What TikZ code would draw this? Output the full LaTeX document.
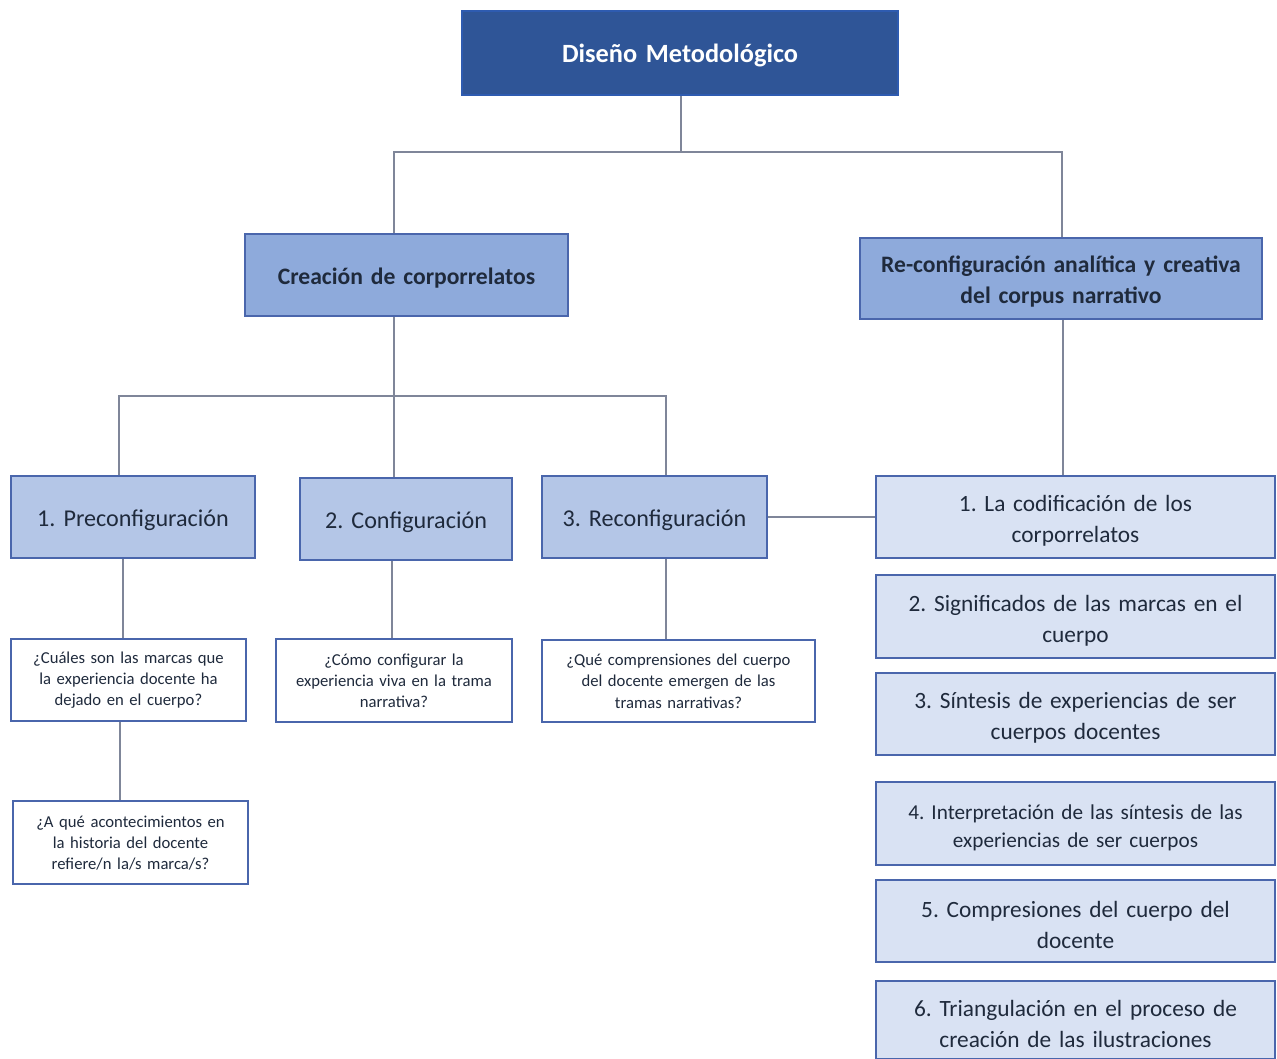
\documentclass[tikz,border=0pt]{standalone}
\usepackage{fontspec}
\setmainfont{Carlito}
\frenchspacing
\definecolor{rootfill}{HTML}{2F5597}
\definecolor{rootedge}{HTML}{2E5BB0}
\definecolor{midfill}{HTML}{8EAADB}
\definecolor{stepfill}{HTML}{B4C6E7}
\definecolor{listfill}{HTML}{D9E2F3}
\definecolor{boxedge}{HTML}{4A66AC}
\definecolor{linkcol}{HTML}{7F8699}
\definecolor{inkcol}{HTML}{1F2A3C}
\newcommand{\bx}[7]{\node[#1,minimum width=#4*0.75pt-#5*0.75pt,minimum height=#7*0.75pt-#6*0.75pt,
  text width=#4*0.75pt-#5*0.75pt-8pt] (#2) at ({(#4+#5)/2},{(#6+#7)/2}) {#3};}
\newcommand{\tightwords}{\spaceskip=.16em plus .05em minus .03em\relax}
\begin{document}
\begin{tikzpicture}[x=0.75pt,y=-0.75pt,
  nudge/.style={execute at begin node={\leavevmode\rule{0pt}{#1}}},
  base/.style={draw=boxedge,line width=1.3pt,inner sep=0pt,align=center,text=inkcol},
  rootbox/.style={base,nudge=17pt,draw=rootedge,fill=rootfill,text=white,font=\fontsize{19.75}{23}\selectfont\bfseries\tightwords},
  midbox/.style={base,nudge=16.5pt,fill=midfill,font=\fontsize{17.7}{23.2}\selectfont\bfseries\tightwords},
  stepbox/.style={base,nudge=17.5pt,fill=stepfill,font=\fontsize{18.1}{23}\selectfont\tightwords},
  listbox/.style={base,nudge=18pt,fill=listfill,font=\fontsize{17.5}{23.2}\selectfont\tightwords},
  smalllistbox/.style={base,nudge=17pt,fill=listfill,font=\fontsize{15.9}{21}\selectfont\tightwords},
  askbox/.style={base,nudge=9pt,fill=white,font=\fontsize{12.5}{15.8}\selectfont\tightwords},
  link/.style={draw=linkcol,line width=1.1pt}]
\useasboundingbox (0,0) rectangle (1277,1059);
\bx{rootbox}{root}{Diseño Metodológico}{898}{462}{11}{95}
\bx{midbox}{crea}{Creación de corporrelatos}{568}{245}{234}{316}
\bx{midbox}{reconf}{Re-configuración analítica y creativa\\del corpus narrativo}{1262}{860}{238}{319}
\bx{stepbox}{pa}{1. Preconfiguración}{255}{11}{476}{558}
\bx{stepbox}{pb}{2. Configuración}{512}{300}{478}{560}
\bx{stepbox}{pc}{3. Reconfiguración}{767}{542}{476}{558}
\bx{askbox}{qa}{¿Cuáles son las marcas que\\la experiencia docente ha\\dejado en el cuerpo?}{246}{11}{639}{721}
\bx{askbox}{qb}{¿Cómo configurar la\\experiencia viva en la trama\\narrativa?}{512}{276}{639}{722}
\bx{askbox}{qc}{¿Qué comprensiones del cuerpo\\del docente emergen de las\\tramas narrativas?}{815}{542}{640}{722}
\bx{askbox}{qd}{¿A qué acontecimientos en\\la historia del docente\\refiere/n la/s marca/s?}{248}{13}{801}{884}
\bx{listbox}{ra}{1. La codificación de los\\corporrelatos}{1275}{876}{476}{558}
\bx{listbox}{rb}{2. Significados de las marcas en el\\cuerpo}{1275}{876}{575}{658}
\bx{listbox}{rc}{3. Síntesis de experiencias de ser\\cuerpos docentes}{1275}{876}{673}{755}
\bx{smalllistbox}{rd}{4. Interpretación de las síntesis de las\\experiencias de ser cuerpos}{1275}{876}{782}{865}
\bx{listbox}{re}{5. Compresiones del cuerpo del\\docente}{1275}{876}{880}{962}
\bx{listbox}{rf}{6. Triangulación en el proceso de\\creación de las ilustraciones}{1275}{876}{981}{1059}
\coordinate (ja) at (681,152);
\coordinate (jb) at (394,152);
\coordinate (jc) at (1062,152);
\coordinate (jd) at (394,396);
\coordinate (je) at (119,396);
\coordinate (jf) at (666,396);
\coordinate (jg) at (123,600);
\coordinate (jh) at (392,600);
\coordinate (ji) at (666,600);
\coordinate (jj) at (120,760);
\coordinate (jk) at (1063,400);
\draw[link] (root.south -| ja) -- (ja);
\draw[link] (crea.north -| jb) -- (jb) -- (jc) -- (reconf.north -| jc);
\draw[link] (crea.south -| jd) -- (pb.north -| jd);
\draw[link] (pa.north -| je) -- (je) -- (jf) -- (pc.north -| jf);
\draw[link] (pa.south -| jg) -- (qa.north -| jg);
\draw[link] (pb.south -| jh) -- (qb.north -| jh);
\draw[link] (pc.south -| ji) -- (qc.north -| ji);
\draw[link] (qa.south -| jj) -- (qd.north -| jj);
\draw[link] (pc.east) -- (pc.east -| ra.west);
\draw[link] (reconf.south -| jk) -- (ra.north -| jk);
\end{tikzpicture}
\end{document}
